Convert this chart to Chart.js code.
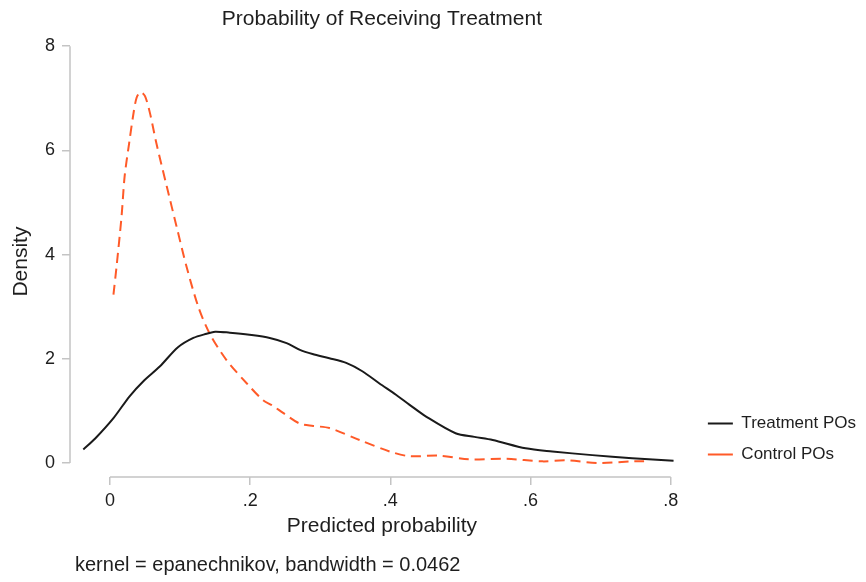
<!DOCTYPE html>
<html>
<head>
<meta charset="utf-8">
<script src="https://cdn.jsdelivr.net/npm/chart.js@4/dist/chart.umd.min.js"></script>
<style>
  html, body { margin: 0; padding: 0; background: #fff; }
  #wrap { width: 866px; height: 582px; }
</style>
</head>
<body>
<div id="wrap"><canvas id="chart" width="866" height="582"></canvas></div>
<script>
// kernel density estimates
const treatX = [-0.038, -0.021, 0.005, 0.028, 0.047, 0.071, 0.097, 0.119, 0.138, 0.15, 0.171, 0.199, 0.228, 0.252, 0.271, 0.289, 0.313, 0.337, 0.36, 0.384, 0.408, 0.427, 0.451, 0.493, 0.52, 0.546, 0.593, 0.631, 0.688, 0.745, 0.804];
const treatY = [0.26, 0.47, 0.86, 1.28, 1.56, 1.85, 2.22, 2.40, 2.48, 2.52, 2.5, 2.46, 2.40, 2.30, 2.17, 2.09, 2.01, 1.92, 1.76, 1.53, 1.31, 1.12, 0.89, 0.57, 0.5, 0.44, 0.28, 0.22, 0.15, 0.09, 0.04];
const ctrlX = [0.005, 0.0095, 0.0166, 0.021, 0.0275, 0.033, 0.038, 0.0437, 0.05, 0.057, 0.066, 0.081, 0.095, 0.109, 0.126, 0.142, 0.166, 0.195, 0.218, 0.232, 0.247, 0.27, 0.29, 0.313, 0.356, 0.399, 0.427, 0.47, 0.512, 0.565, 0.617, 0.65, 0.697, 0.745, 0.762];
const ctrlY = [3.23, 3.78, 4.74, 5.51, 6.15, 6.66, 7.01, 7.12, 7.04, 6.72, 6.15, 5.31, 4.54, 3.78, 3.0, 2.49, 1.98, 1.53, 1.21, 1.1, 0.96, 0.76, 0.71, 0.67, 0.44, 0.22, 0.13, 0.14, 0.07, 0.08, 0.03, 0.05, 0.0, 0.03, 0.03];

const xTicks = [0, 0.2, 0.4, 0.6, 0.8];
const yTicks = [0, 2, 4, 6, 8];
const seriesNames = ["Treatment POs", "Control POs"];
const caption = "kernel = epanechnikov, bandwidth = 0.0462";

const FONT = "'Liberation Sans', Arial, sans-serif";
const AXIS_GREY = "#c4c4c4";
const TEXT = "#1e1e1e";

const toPoints = (xs, ys) => xs.map((x, i) => ({ x, y: ys[i] }));
const fmtTick = v => v === 0 ? "0" : String(v).replace(/^0/, "");

// Stata style axes: lines only cover the tick range, plus the note line
const stataAxes = {
  id: "stataAxes",
  beforeDatasetsDraw(chart) {
    const { ctx, chartArea, scales: { x, y } } = chart;
    ctx.save();
    ctx.strokeStyle = AXIS_GREY;
    ctx.lineWidth = 1.5;
    ctx.beginPath();
    ctx.moveTo(chartArea.left, y.getPixelForValue(yTicks[0]));
    ctx.lineTo(chartArea.left, y.getPixelForValue(yTicks[yTicks.length - 1]));
    ctx.moveTo(x.getPixelForValue(xTicks[0]), chartArea.bottom);
    ctx.lineTo(x.getPixelForValue(xTicks[xTicks.length - 1]), chartArea.bottom);
    ctx.stroke();
    ctx.restore();
  },
  afterDraw(chart) {
    const { ctx } = chart;
    ctx.save();
    ctx.fillStyle = TEXT;
    ctx.font = "20px " + FONT;
    ctx.textBaseline = "middle";
    ctx.textAlign = "left";
    ctx.fillText(caption, 75, 565);
    ctx.restore();
  }
};

new Chart(document.getElementById("chart"), {
  type: "line",
  data: {
    datasets: [
      {
        label: seriesNames[0],
        data: toPoints(treatX, treatY),
        borderColor: "#1a1a1a",
        backgroundColor: "#1a1a1a",
        borderWidth: 2,
        pointRadius: 0,
        tension: 0.3
      },
      {
        label: seriesNames[1],
        data: toPoints(ctrlX, ctrlY),
        borderColor: "#ff5a28",
        backgroundColor: "#ff5a28",
        borderWidth: 2,
        borderDash: [10, 6],
        pointRadius: 0,
        tension: 0.3
      }
    ]
  },
  options: {
    responsive: false,
    animation: false,
    layout: { padding: { left: 0, right: 0, top: 0, bottom: 0 } },
    plugins: {
      title: {
        display: true,
        fullSize: false,
        text: "Probability of Receiving Treatment",
        color: TEXT,
        font: { family: FONT, size: 21, weight: "normal" },
        padding: { top: 7, bottom: 14 }
      },
      legend: {
        position: "right",
        align: "end",
        fullSize: false,
        labels: {
          boxWidth: 25,
          boxHeight: 0,
          padding: 14,
          color: TEXT,
          font: { family: FONT, size: 17 }
        }
      },
      tooltip: { enabled: false }
    },
    scales: {
      x: {
        type: "linear",
        min: -0.057,
        max: 0.833,
        afterBuildTicks: s => { s.ticks = xTicks.map(v => ({ value: v })); },
        afterFit: s => { s.height = 105; },
        grid: { drawOnChartArea: false, drawTicks: true, tickLength: 8, color: AXIS_GREY, lineWidth: 1.5 },
        border: { display: false },
        ticks: { padding: 5, color: TEXT, font: { family: FONT, size: 18 }, maxRotation: 0, callback: v => fmtTick(v) },
        title: {
          display: true,
          text: "Predicted probability",
          color: TEXT,
          font: { family: FONT, size: 21 },
          padding: { top: 0, bottom: 43 }
        }
      },
      y: {
        min: -0.27,
        max: 8,
        afterBuildTicks: s => { s.ticks = yTicks.map(v => ({ value: v })); },
        afterFit: s => { s.width = 70; },
        grid: { drawOnChartArea: false, drawTicks: true, tickLength: 8, color: AXIS_GREY, lineWidth: 1.5 },
        border: { display: false },
        ticks: { padding: 7, color: TEXT, font: { family: FONT, size: 18 }, callback: v => fmtTick(v) },
        title: {
          display: true,
          text: "Density",
          color: TEXT,
          font: { family: FONT, size: 21 },
          padding: { top: 9, bottom: 0 }
        }
      }
    }
  },
  plugins: [stataAxes]
});
</script>
</body>
</html>
